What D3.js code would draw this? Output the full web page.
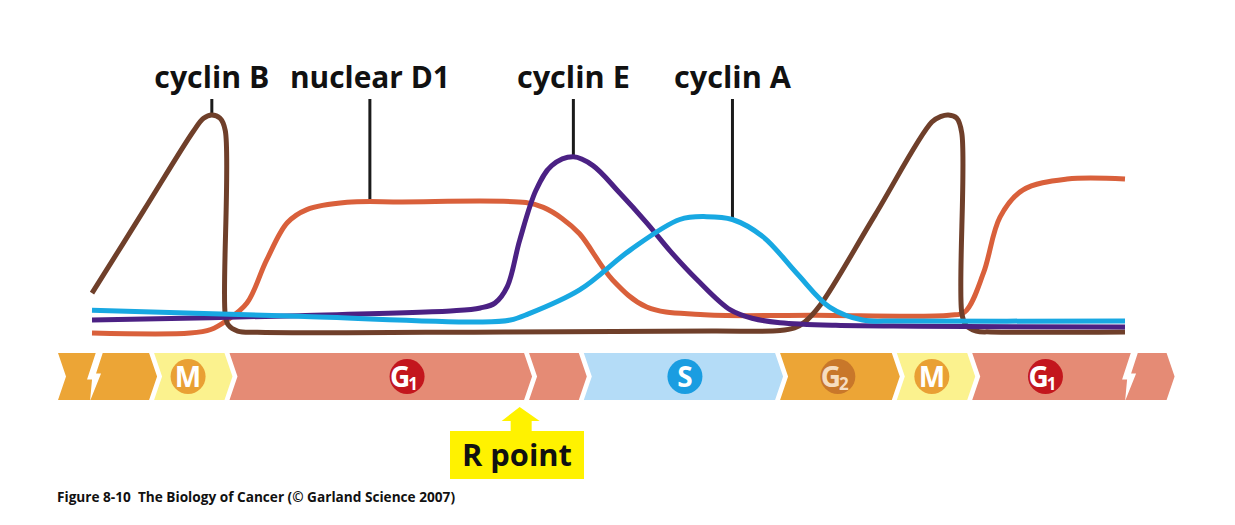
<!DOCTYPE html>
<html>
<head>
<meta charset="utf-8">
<script src="https://cdn.jsdelivr.net/npm/d3@7/dist/d3.min.js"></script>
<style>
  body { margin: 0; background: #fff; }
  svg { display: block; }
</style>
</head>
<body>
<div id="chart"></div>
<script>
// time runs 0..100 across one cycle and a bit, level is relative abundance 0..100
const cyclinB = [[0,19],[5,56.5],[9.8,92.5],[10.8,98.5],[11.6,100],[12.4,98.5],[12.9,93],[12.9,9],[13.2,4.5],[14.1,1.8],[16,1.2],[40,1.4],[60,1.8],[66.6,2],[68,3.2],[69,5.9],[70.5,13.6],[75.8,54.5],[81.3,96.8],[82.2,99.4],[82.9,100],[83.7,98.6],[84.2,91.8],[84.2,10],[84.6,4.5],[85.6,1.8],[87,1.4],[100,1.4]]
const nuclearD1 = [[0,0.9],[9.5,0.9],[11.5,2.5],[13,6.5],[15,14.5],[16.9,34],[18.9,51],[20.8,57],[24.7,60.3],[30,60.5],[42,60.2],[43.7,58],[45.5,53],[47.2,46],[50.4,25],[53.7,12.7],[58.9,9.3],[70,9],[83,9],[84.5,10.5],[86.3,28.2],[87.9,53.6],[90.1,65.9],[94.4,70.9],[100,70.9]]
const cyclinE = [[0,6.8],[20,8.8],[35,11],[37.6,12.3],[39,14.5],[40.2,22],[41.4,43],[43,66],[44.5,77],[46.6,81],[48.5,77],[51,65],[53.7,51],[56,38],[58.6,25],[61.8,11.4],[64,7.5],[66.6,5.6],[72,4.4],[80,4],[100,3.6]]
const cyclinA = [[0,11.2],[20,8.5],[37.6,5.9],[40.5,6.8],[42.2,9.5],[47.2,20.5],[52.1,38.6],[56.9,52.5],[59.5,53.8],[62,52.5],[65,44.5],[68.2,28.2],[71.4,12.7],[74.6,6.8],[78,6.4],[100,6.4]]

const curveNames = ['nuclear D1', 'cyclin B', 'cyclin E', 'cyclin A']
const curveData = [nuclearD1, cyclinB, cyclinE, cyclinA]
const curveColors = ['#d9603b', '#6f3f2a', '#4b2184', '#18a8e2']

// label text, time where its leader meets the curve, level there
const labels = ['cyclin B', 'nuclear D1', 'cyclin E', 'cyclin A']
const labelT = [11.6, 26.9, 46.6, 62]
const labelLevel = [100, 60.5, 81, 53.2]
const labelWidth = [115, 160, 113, 117]

// cell cycle phase bar: segment end (chevron tip) times
const phaseStart = -3.0
const phaseEnds = [6.3, 13.6, 42.6, 47.9, 66.9, 78.2, 85.5, 104.8]
const phaseKind = ['G2', 'M', 'G1', 'G1', 'S', 'G2', 'M', 'G1']
const phaseFill = { G2: '#eca536', M: '#fbf28e', G1: '#e58b75', S: '#b4dcf7' }
const breakT = [0.1, 100.3]

const badgeT = [9.3, 30.5, 57.4, 72.2, 81.3, 92.3]
const badgeMain = ['M', 'G', 'S', 'G', 'M', 'G']
const badgeSub = ['', '1', '', '2', '', '1']
const badgeFill = ['#e9a034', '#c3161d', '#1a9de1', '#c8772a', '#e9a034', '#c3161d']
const badgeText = ['#fff', '#fff', '#fff', '#f6ddc0', '#fff', '#fff']

const rPointT = 41.4

const W = 1235, H = 525
const svg = d3.select('#chart').append('svg').attr('width', W).attr('height', H)

const x = d3.scaleLinear().domain([0, 100]).range([92, 1125])
const y = d3.scaleLinear().domain([0, 100]).range([335, 115])

const line = d3.line()
  .x(d => x(d[0]))
  .y(d => y(d[1]))
  .curve(d3.curveCatmullRom.alpha(0.5))

// leader lines
for (let i = 0; i < labels.length; i++) {
  svg.append('line')
    .attr('x1', x(labelT[i])).attr('x2', x(labelT[i]))
    .attr('y1', 99).attr('y2', y(labelLevel[i]))
    .attr('stroke', '#1b1b1b')
    .attr('stroke-width', 3)
  svg.append('text')
    .attr('x', x(labelT[i]))
    .attr('y', 88)
    .attr('text-anchor', 'middle')
    .attr('font-family', 'Open Sans, sans-serif')
    .attr('font-weight', 700)
    .attr('font-size', 31)
    .attr('textLength', labelWidth[i])
    .attr('lengthAdjust', 'spacingAndGlyphs')
    .attr('fill', '#111')
    .text(labels[i])
}

// curves
for (let i = 0; i < curveData.length; i++) {
  svg.append('path')
    .attr('d', line(curveData[i]))
    .attr('fill', 'none')
    .attr('stroke', curveColors[i])
    .attr('stroke-width', 5)
    .attr('stroke-linejoin', 'round')
    .attr('class', curveNames[i].replace(' ', '-'))
}

// phase bar
const y0 = 353, y1 = 400, ym = (y0 + y1) / 2, depth = 8, gap = 5
let prev = x(phaseStart)
for (let i = 0; i < phaseEnds.length; i++) {
  let a = prev, b = x(phaseEnds[i])
  let pts = [
    [a - depth + gap, y0], [b - depth, y0], [b, ym], [b - depth, y1],
    [a - depth + gap, y1], [a + gap, ym]
  ]
  svg.append('polygon')
    .attr('points', pts.map(p => p.join(',')).join(' '))
    .attr('fill', phaseFill[phaseKind[i]])
  prev = b
}

// lightning breaks in the bar
for (let i = 0; i < breakT.length; i++) {
  let bx = x(breakT[i])
  let bolt = [[bx + 3, y0 - 1], [bx + 10, y0 - 1], [bx + 3, ym - 3], [bx + 8, ym - 3],
              [bx - 3, y1 + 1], [bx - 1, ym + 3], [bx - 6, ym + 3]]
  svg.append('polygon')
    .attr('points', bolt.map(p => p.join(',')).join(' '))
    .attr('fill', '#fff')
}

// phase badges
for (let i = 0; i < badgeT.length; i++) {
  let cx = x(badgeT[i])
  svg.append('circle')
    .attr('cx', cx).attr('cy', ym)
    .attr('r', 17.5)
    .attr('fill', badgeFill[i])
  let t = svg.append('text')
    .attr('x', badgeSub[i] ? cx - 3 : cx)
    .attr('y', ym + 10)
    .attr('text-anchor', 'middle')
    .attr('font-family', 'Open Sans, sans-serif')
    .attr('font-weight', 700)
    .attr('font-size', 28)
    .attr('fill', badgeText[i])
  t.append('tspan').text(badgeMain[i])
  if (badgeSub[i]) {
    t.append('tspan')
      .attr('font-size', 17)
      .attr('dy', 3)
      .attr('dx', -2)
      .text(badgeSub[i])
  }
}

// R point marker
const rx = x(rPointT)
svg.append('polygon')
  .attr('points', [[rx, 407], [rx + 20, 421], [rx + 12, 421], [rx + 12, 431], [rx - 9, 431], [rx - 9, 421], [rx - 18, 421]].map(p => p.join(',')).join(' '))
  .attr('fill', '#fff200')
svg.append('rect')
  .attr('x', 450).attr('y', 431)
  .attr('width', 134).attr('height', 48)
  .attr('fill', '#fff200')
svg.append('text')
  .attr('x', 517).attr('y', 466)
  .attr('text-anchor', 'middle')
  .attr('font-family', 'Open Sans, sans-serif')
  .attr('font-weight', 700)
  .attr('font-size', 30)
  .attr('textLength', 110)
  .attr('lengthAdjust', 'spacingAndGlyphs')
  .attr('fill', '#111')
  .text('R point')

// caption
svg.append('text')
  .attr('x', 57).attr('y', 502)
  .attr('font-family', 'Open Sans, sans-serif')
  .attr('font-weight', 700)
  .attr('font-size', 14)
  .attr('textLength', 398)
  .attr('lengthAdjust', 'spacingAndGlyphs')
  .attr('fill', '#111')
  .attr('xml:space', 'preserve')
  .text('Figure 8-10  The Biology of Cancer (© Garland Science 2007)')
</script>
</body>
</html>
